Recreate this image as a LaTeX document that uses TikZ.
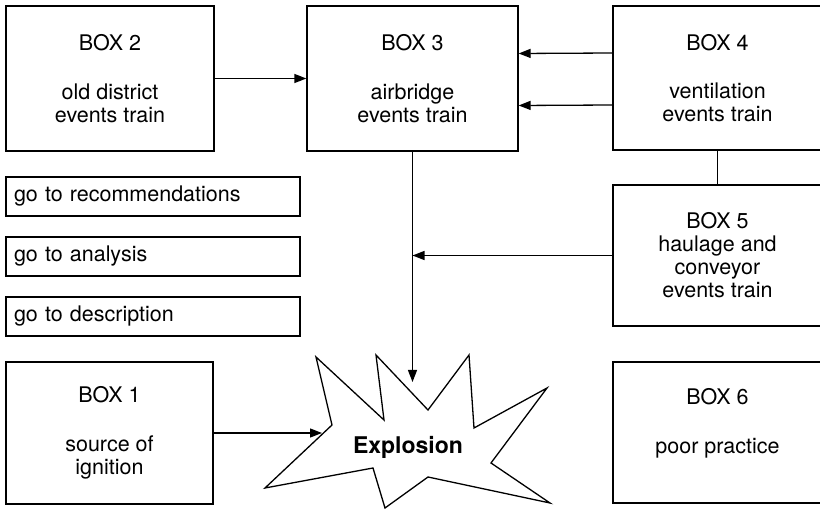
\documentclass[tikz,border=0pt]{standalone}
\usepackage{fontspec}
\setmainfont{TeX Gyre Heros}
\usetikzlibrary{arrows.meta,positioning,calc}

\begin{document}
\begin{tikzpicture}[x=1pt,y=-1pt,line width=1.3pt,
        evbox/.style={draw, align=center, inner sep=0pt, font=\fontsize{21.5}{23}\selectfont},
        gobox/.style={draw, align=left, text width=278pt, inner xsep=8pt, inner ysep=0pt, minimum height=39pt, font=\fontsize{21.5}{23}\selectfont},
        arr/.style={-{Triangle[length=12pt,width=9pt]}}]
        \useasboundingbox (0,0) rectangle (820,510);
        % event trains
        \node[evbox, minimum width=208pt, minimum height=145pt] (box2) at (110,78.5) {BOX 2\\[25.5pt]old district\\events train};
        \node[evbox, minimum width=211pt, minimum height=145pt] (box3) at (412.5,78.5) {BOX 3\\[25.5pt]airbridge\\events train};
        \node[evbox, minimum width=209pt, minimum height=144pt] (box4) at (717.5,78) {BOX 4\\[25.5pt]ventilation\\events train};
        \node[evbox, minimum width=209pt, minimum height=141pt] (box5) at (717.5,255.5) {BOX 5\\haulage and\\conveyor\\events train};
        \node[evbox, minimum width=207pt, minimum height=142pt] (box1) at (109.5,433) {BOX 1\\[25.5pt]source of\\ignition};
        \node[evbox, minimum width=209pt, minimum height=141pt] (box6) at (717.5,432.5) {BOX 6\\[25.5pt]poor practice\\\mbox{}};
        % links
        \node[gobox] (gorec) at (153,196.5) {go to recommendations};
        \node[gobox] (goana) at (153,256.5) {go to analysis};
        \node[gobox] (godesc) at (153,316.5) {go to description};
        % explosion
        \draw (316,357) -- (384,420) -- (376,355) -- (428,410) -- (469,355) -- (474,428) -- (547,388) -- (491,463) -- (550,503) -- (428,477) -- (385,508) -- (373,468) -- (265,488) -- (332,425) -- cycle;
        \node[font=\fontsize{23}{27}\selectfont\bfseries] (expl) at (408,447) {Explosion};
        \coordinate (tip3) at (412.5,382);
        \coordinate (tip1) at (322,433);
        \draw[arr] (box2.east) -- (box3.west);
        \draw[arr] ([yshift=25pt]box4.west) -- ([yshift=25pt]box3.east);
        \draw[arr] ([yshift=-27pt]box4.west) -- ([yshift=-27pt]box3.east);
        \draw (box4.south) -- (box5.north);
        \draw[arr] (box3.south) -- (tip3);
        \draw[arr] (box5.west) -- (box3.south |- box5.west);
        \draw[arr] (box1.east) -- (tip1);
\end{tikzpicture}
\end{document}
